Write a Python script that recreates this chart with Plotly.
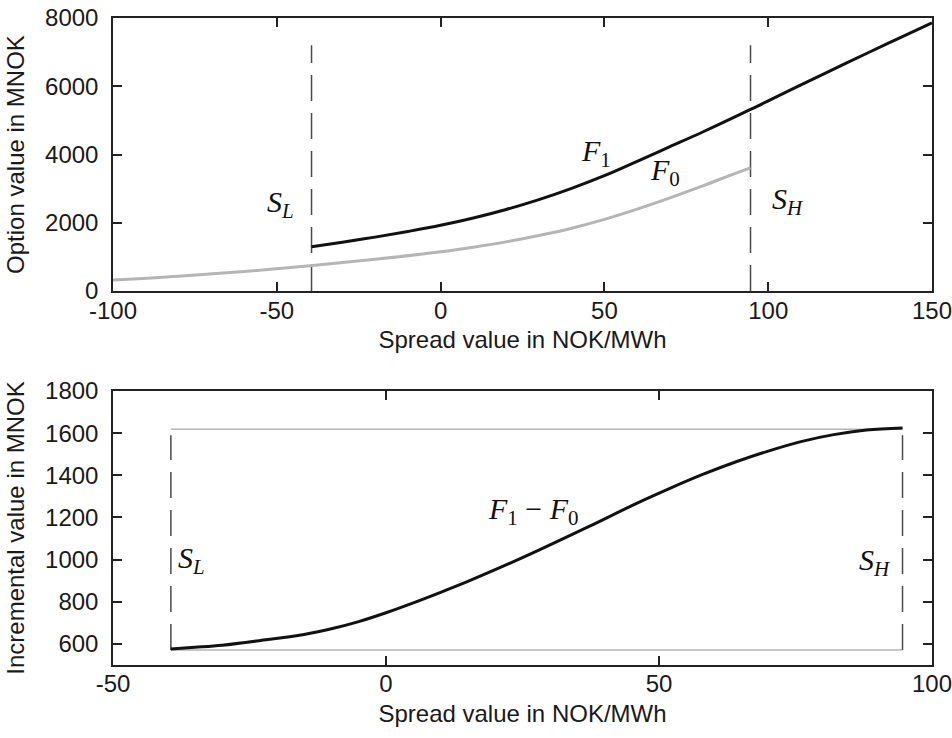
import plotly.graph_objects as go
from plotly.subplots import make_subplots

# ---- data ----
S_L = -39.4
S_H = 94.6

f0_x = [-100, -80, -60, -40, -20, 0, 10, 20, 30, 40, 50, 60, 70, 80, 90, 94.6]
f0_y = [320, 430, 570, 740, 930, 1150, 1285, 1440, 1625, 1840, 2100, 2400, 2730, 3080, 3450, 3610]

f1_x = [-39.4, -30, -20, -10, 0, 10, 20, 30, 40, 50, 60, 70, 80, 90, 94.6, 100, 110, 120, 130, 140, 150]
f1_y = [1300, 1430, 1580, 1745, 1925, 2140, 2390, 2680, 3010, 3380, 3800, 4230, 4660, 5110, 5320, 5570, 6040, 6500, 6960, 7410, 7860]

diff_x = [-39.4, -35, -30, -23, -15, -10, -5, 0, 5, 10, 15, 20, 28, 37, 46, 52, 58, 64, 70, 76, 82, 88, 94.6]
diff_y = [576, 584, 594, 616, 645, 672, 706, 748, 795, 845, 897, 952, 1045, 1155, 1268, 1338, 1404, 1463, 1515, 1560, 1593, 1615, 1625]

diff_max = 1618
diff_min = 571

top_dash_y = [0, 7200]
bot_dash_y = [571, 1590]

top_xticks = [-100, -50, 0, 50, 100, 150]
top_yticks = [0, 2000, 4000, 6000, 8000]
bot_xticks = [-50, 0, 50, 100]
bot_yticks = [600, 800, 1000, 1200, 1400, 1600, 1800]

# ---- styles ----
BLACK = "#111111"
LGRAY = "#b5b5b5"
DASH = "#4a4a4a"
dash_pat = "26px,12px"
tick_font = dict(family="Liberation Sans, Arial, sans-serif", size=24, color="#1a1a1a")
math_font = dict(family="Liberation Serif, Times New Roman, serif", size=30, color="#111111")

fig = make_subplots(rows=2, cols=1, vertical_spacing=0.155)

# top panel
fig.add_trace(go.Scatter(x=[S_L, S_L], y=top_dash_y, mode="lines",
                         line=dict(color=DASH, width=1.5, dash=dash_pat)), row=1, col=1)
fig.add_trace(go.Scatter(x=[S_H, S_H], y=top_dash_y, mode="lines",
                         line=dict(color=DASH, width=1.5, dash=dash_pat)), row=1, col=1)
fig.add_trace(go.Scatter(x=f0_x, y=f0_y, mode="lines", line_shape="spline",
                         line=dict(color=LGRAY, width=3)), row=1, col=1)
fig.add_trace(go.Scatter(x=f1_x, y=f1_y, mode="lines", line_shape="spline",
                         line=dict(color=BLACK, width=3)), row=1, col=1)

# bottom panel
fig.add_trace(go.Scatter(x=[S_L, S_H], y=[diff_max, diff_max], mode="lines",
                         line=dict(color=LGRAY, width=1.5)), row=2, col=1)
fig.add_trace(go.Scatter(x=[S_L, S_H], y=[diff_min, diff_min], mode="lines",
                         line=dict(color=LGRAY, width=1.5)), row=2, col=1)
fig.add_trace(go.Scatter(x=[S_L, S_L], y=bot_dash_y, mode="lines",
                         line=dict(color=DASH, width=1.5, dash=dash_pat)), row=2, col=1)
fig.add_trace(go.Scatter(x=[S_H, S_H], y=bot_dash_y, mode="lines",
                         line=dict(color=DASH, width=1.5, dash=dash_pat)), row=2, col=1)
fig.add_trace(go.Scatter(x=diff_x, y=diff_y, mode="lines", line_shape="spline",
                         line=dict(color=BLACK, width=3)), row=2, col=1)

axis_common = dict(showgrid=False, zeroline=False, showline=True, linecolor="#222222",
                   linewidth=1.5, mirror="ticks", ticks="inside", ticklen=9,
                   tickcolor="#222222", tickwidth=1.5, tickfont=tick_font,
                   ticklabeloverflow="allow", automargin=False)

fig.update_xaxes(**axis_common)
fig.update_yaxes(**axis_common)


def labels(vals):
    return [str(v) for v in vals]


fig.update_xaxes(range=[-100, 150], tickvals=top_xticks, ticktext=labels(top_xticks),
                 ticklabelstandoff=-3,
                 title=dict(text="Spread value in NOK/MWh", font=tick_font, standoff=9),
                 row=1, col=1)
fig.update_yaxes(range=[0, 8000], tickvals=top_yticks, ticktext=labels(top_yticks),
                 ticklabelstandoff=8,
                 title=dict(text="Option value in MNOK", font=tick_font, standoff=14),
                 row=1, col=1)
fig.update_xaxes(range=[-50, 100], tickvals=bot_xticks, ticktext=labels(bot_xticks),
                 ticklabelstandoff=-4,
                 title=dict(text="Spread value in NOK/MWh", font=tick_font, standoff=10),
                 row=2, col=1)
fig.update_yaxes(range=[500, 1800], tickvals=bot_yticks, ticktext=labels(bot_yticks),
                 ticklabelstandoff=8,
                 title=dict(text="Incremental value in MNOK", font=tick_font, standoff=14),
                 row=2, col=1)

fig.update_layout(xaxis=dict(domain=[0, 1]), yaxis=dict(domain=[0.578, 1.0]),
                  xaxis2=dict(domain=[0, 1]), yaxis2=dict(domain=[0.0, 0.4235]))

ann = [
    dict(text="<i>S</i><sub><i>L</i></sub>", x=-48.8, y=2540, xref="x", yref="y"),
    dict(text="<i>S</i><sub><i>H</i></sub>", x=106.0, y=2650, xref="x", yref="y"),
    dict(text="<i>F</i><sub>1</sub>", x=47.5, y=4050, xref="x", yref="y"),
    dict(text="<i>F</i><sub>0</sub>", x=68.5, y=3480, xref="x", yref="y"),
    dict(text="<i>S</i><sub><i>L</i></sub>", x=-35.6, y=1000, xref="x2", yref="y2"),
    dict(text="<i>S</i><sub><i>H</i></sub>", x=89.6, y=990, xref="x2", yref="y2"),
    dict(text="<i>F</i><sub>1</sub> \u2212 <i>F</i><sub>0</sub>", x=27.0, y=1232, xref="x2", yref="y2"),
]
for a in ann:
    fig.add_annotation(showarrow=False, font=math_font, xanchor="center", yanchor="middle", **a)

fig.update_layout(width=952, height=738, showlegend=False,
                  paper_bgcolor="white", plot_bgcolor="white",
                  margin=dict(l=113, r=20, t=18, b=73, autoexpand=False))

fig.write_html("out.html")
